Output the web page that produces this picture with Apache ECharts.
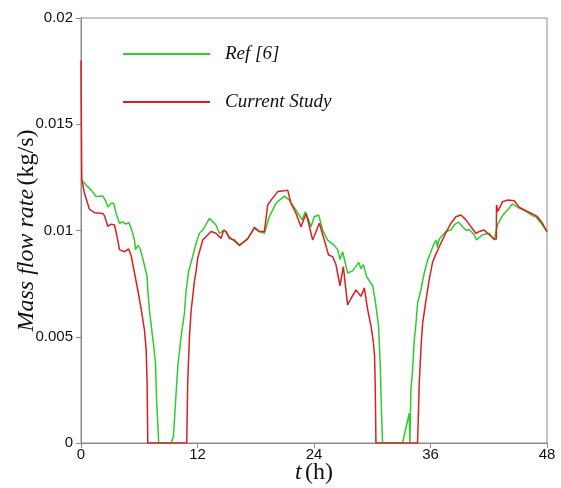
<!DOCTYPE html>
<html><head><meta charset="utf-8">
<script src="https://cdn.jsdelivr.net/npm/echarts@6/dist/echarts.min.js"></script>
<style>html,body{margin:0;padding:0;background:#fff}#c{width:561px;height:488px}</style>
</head><body><div id="c"></div>
<script>
const xTicks = [0, 12, 24, 36, 48];
const yTicks = [0, 0.005, 0.01, 0.015, 0.02];

const refT = [0,0.53,1.05,1.56,2.25,2.59,2.76,3.11,3.38,3.62,3.96,4.3,4.65,4.92,5.17,5.51,5.61,5.85,6.09,6.36,6.64,6.81,6.88,7.05,7.33,7.46,7.67,7.8,7.94,8.0,9.28,9.52,9.73,9.97,10.31,10.65,10.83,11.1,11.5,11.86,12.2,12.54,13.23,13.9,14.25,14.77,15.28,16.31,17.17,17.86,18.37,18.89,19.4,20.09,20.95,21.46,22.15,22.77,23.1,23.45,23.69,24.03,24.48,24.89,25.4,26.09,26.43,26.68,26.95,27.46,27.98,28.6,28.84,29.08,29.42,30.04,30.31,30.65,30.83,30.96,31.06,33.12,33.81,33.88,33.98,34.15,34.32,34.5,34.67,35.01,35.35,35.7,36.04,36.38,36.62,36.7,36.9,37.59,38.1,38.44,38.88,39.3,39.7,39.99,40.5,40.74,41.35,42.05,42.56,42.9,43.41,43.93,44.44,45.13,45.82,46.5,46.85,47.53,48];
const refV = [0.0124,0.01214,0.0119,0.0116,0.01162,0.01136,0.0111,0.01128,0.01128,0.0108,0.01034,0.0104,0.0103,0.01037,0.0101,0.00955,0.0091,0.0093,0.00916,0.0087,0.00814,0.00783,0.0072,0.00626,0.00516,0.0047,0.00376,0.00187,0.0006,0,0,0.0003,0.00187,0.0036,0.005,0.0061,0.0072,0.0081,0.00877,0.0094,0.00987,0.01002,0.01057,0.01026,0.00987,0.01002,0.0097,0.0093,0.00963,0.0101,0.00995,0.00987,0.01065,0.01128,0.01162,0.01143,0.01096,0.0105,0.01088,0.0105,0.01018,0.01065,0.01073,0.01002,0.00955,0.0093,0.0091,0.00864,0.009,0.008,0.0081,0.0085,0.0082,0.0084,0.00783,0.0074,0.0067,0.0055,0.0036,0.0014,0,0,0.0014,0,0.0025,0.0034,0.0048,0.0056,0.0066,0.0072,0.008,0.0086,0.009,0.0094,0.00955,0.0092,0.0096,0.00995,0.01002,0.01026,0.0104,0.01018,0.01,0.01005,0.0098,0.00955,0.0098,0.00987,0.00955,0.01026,0.0107,0.01096,0.01125,0.01105,0.0109,0.0107,0.01065,0.01026,0.00995];

const curT = [0,0.08,0.36,0.87,1.39,2.24,2.42,2.76,3.11,3.45,3.79,3.96,4.48,4.92,5.17,5.51,5.85,6.2,6.54,6.71,6.81,6.88,10.89,10.99,11.17,11.34,11.68,11.86,12.02,12.54,13.4,13.9,14.43,14.7,14.95,15.28,15.8,16.31,17.17,17.86,18.37,18.89,19.23,19.58,20.26,20.95,21.29,21.63,22.15,22.66,23.18,23.45,23.86,24.55,25.06,25.5,25.92,26.26,26.68,27.02,27.46,27.81,28.32,28.84,29.18,29.52,29.87,30.1,30.24,30.31,30.38,34.67,34.84,35.01,35.18,35.53,35.87,36.21,36.56,37.07,37.59,38.1,38.62,39.13,39.65,40.16,40.67,41.02,41.53,42.05,42.56,42.78,42.8,42.94,43.41,43.93,44.62,45.13,45.82,46.5,47.02,47.53,48];
const curV = [0.018,0.0124,0.01175,0.011,0.01084,0.0108,0.0107,0.0102,0.0103,0.01026,0.00955,0.0091,0.009,0.00913,0.0088,0.008,0.0072,0.0063,0.0053,0.0044,0.0028,0,0,0.0028,0.005,0.0062,0.0076,0.0081,0.0087,0.00955,0.00995,0.00987,0.00963,0.01002,0.00995,0.00963,0.00955,0.0093,0.0096,0.01015,0.00995,0.00995,0.0112,0.01143,0.01183,0.01187,0.0119,0.01128,0.0108,0.01018,0.0108,0.01034,0.00955,0.01034,0.00955,0.00885,0.00877,0.0084,0.0074,0.0083,0.0065,0.0068,0.0072,0.0069,0.0073,0.0063,0.0055,0.0048,0.0041,0.00265,0,0,0.0028,0.0044,0.0056,0.0067,0.0077,0.0085,0.0089,0.0094,0.0099,0.01034,0.01065,0.01073,0.0105,0.01018,0.00987,0.00995,0.01002,0.0098,0.0096,0.0096,0.0112,0.0109,0.01135,0.01143,0.0114,0.0111,0.01093,0.01078,0.01065,0.01034,0.00995];

const pair = (t, v) => t.map((x, i) => [x, v[i]]);
const serif = "'Liberation Serif','DejaVu Serif',serif";
const sans = "'Liberation Sans',Arial,sans-serif";
const axisGray = '#8c8c8c';

const chart = echarts.init(document.getElementById('c'));
chart.setOption({
  animation: false,
  backgroundColor: '#fff',
  grid: {left: 81, right: 14, top: 18, bottom: 45, show: true, borderColor: axisGray, borderWidth: 1,
         containLabel: false, outerBoundsMode: 'none'},
  legend: {
    orient: 'vertical', left: 118, top: 39,
    itemWidth: 87, itemHeight: 2, itemGap: 28, icon: 'rect',
    textStyle: {fontFamily: serif, fontStyle: 'italic', fontSize: 19, color: '#111', lineHeight: 20, padding: [0,0,0,10]},
    data: ['Ref [6]', 'Current Study']
  },
  xAxis: {
    type: 'value', min: xTicks[0], max: xTicks[xTicks.length-1], interval: 12,
    name: '{i|t} {n|(h)}', nameLocation: 'middle', nameGap: 18, nameMoveOverlap: false,
    nameTextStyle: {rich: {i: {fontFamily: serif, fontStyle: 'italic', fontSize: 24, color: '#111'}, n: {fontFamily: serif, fontSize: 24, color: '#111'}}},
    axisLine: {lineStyle: {color: axisGray}},
    axisTick: {show: true, inside: false, length: 5, lineStyle: {color: axisGray}},
    axisLabel: {color: '#111', fontFamily: sans, fontSize: 15, margin: 4},
    splitLine: {show: false}
  },
  yAxis: {
    type: 'value', min: yTicks[0], max: yTicks[yTicks.length-1], interval: 0.005,
    name: '{i|Mass flow rate} {n|(kg/s)}', nameLocation: 'middle', nameGap: 42, nameRotate: 90, nameMoveOverlap: false,
    nameTextStyle: {rich: {i: {fontFamily: serif, fontStyle: 'italic', fontSize: 24, color: '#111'}, n: {fontFamily: serif, fontSize: 24, color: '#111'}}},
    axisLine: {show: true, lineStyle: {color: axisGray}},
    axisTick: {show: true, inside: false, length: 5, lineStyle: {color: axisGray}},
    axisLabel: {color: '#111', fontFamily: sans, fontSize: 15, margin: 8,
      formatter: v => String(parseFloat(v.toFixed(4)))},
    splitLine: {show: false}
  },
  series: [
    {name: 'Ref [6]', type: 'line', data: pair(refT, refV), symbol: 'none', color: '#2ccd2c', lineStyle: {width: 1.5, color: '#2ccd2c'}},
    {name: 'Current Study', type: 'line', data: pair(curT, curV), symbol: 'none', color: '#dd1f1f', lineStyle: {width: 1.5, color: '#dd1f1f'}}
  ]
});
</script></body></html>
